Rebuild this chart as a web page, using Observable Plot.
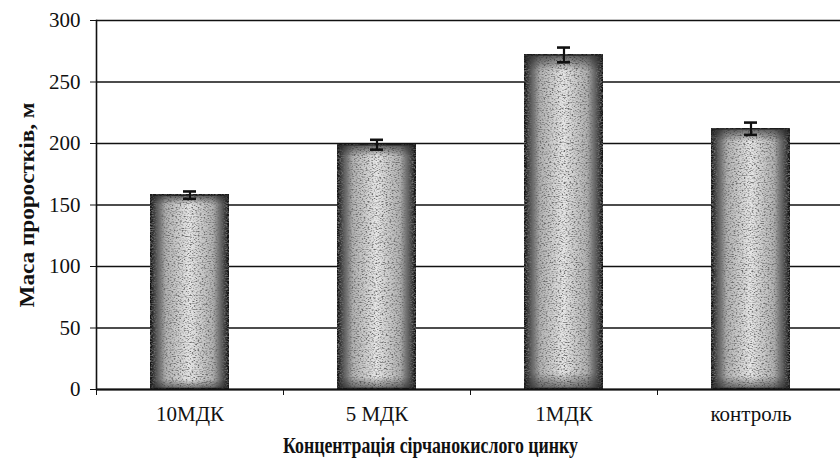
<!DOCTYPE html>
<html>
<head>
<meta charset="utf-8">
<script src="https://cdn.jsdelivr.net/npm/d3@7"></script>
<script src="https://cdn.jsdelivr.net/npm/@observablehq/plot@0.6"></script>
<style>
  html, body { margin: 0; padding: 0; background: #fff; }
</style>
</head>
<body>
<div id="chart"></div>
<script>
const categories = ["10МДК", "5 МДК", "1МДК", "контроль"];
const values = [158, 199, 272, 212];
const errors = [3, 4, 6, 5];
const yTicks = [0, 50, 100, 150, 200, 250, 300];
const xTitle = "Концентрація сірчанокислого цинку";
const yTitle = "Маса проростків, м";

const data = categories.map((c, i) => ({cat: c, v: values[i], e: errors[i]}));

const chart = Plot.plot({
  width: 840,
  height: 469,
  marginLeft: 96,
  marginTop: 20,
  marginBottom: 80,
  marginRight: 0,
  style: {fontFamily: "'Liberation Serif', serif", fontSize: "21px", color: "#111", background: "#fff"},
  x: {domain: categories, range: [96, 844], paddingInner: 0.58, paddingOuter: 0.29, align: 0.5},
  y: {domain: [0, 300], ticks: yTicks},
  marks: [
    Plot.gridY(yTicks, {stroke: "#111", strokeOpacity: 1, strokeWidth: 1.6}),
    Plot.barY(data, {x: "cat", y: "v", fill: "url(#barGrad)", stroke: "#151515", strokeWidth: 2.5, className: "grainbar"}),
    Plot.barY(data, {x: "cat", y: "v", fill: "url(#vGrad)", className: "vshade"}),
    Plot.ruleX(data, {x: "cat", y1: d => d.v - d.e, y2: d => d.v + d.e, stroke: "#111", strokeWidth: 2.2}),
    Plot.tickY(data, {x: "cat", y: d => d.v + d.e, stroke: "#111", strokeWidth: 2.6, insetLeft: 33, insetRight: 33}),
    Plot.tickY(data, {x: "cat", y: d => d.v - d.e, stroke: "#111", strokeWidth: 2.6, insetLeft: 33, insetRight: 33}),
    Plot.ruleY([0], {stroke: "#111", strokeWidth: 2}),
    Plot.frame({anchor: "left", stroke: "#111", strokeWidth: 1.6}),
    Plot.axisY(yTicks, {tickSize: 6, tickPadding: 10, fontSize: 21, stroke: "#111", label: null}),
    Plot.axisX({tickSize: 0, tickPadding: 17, fontSize: 21, label: null}),
    Plot.axisX({tickSize: 6, tickFormat: () => "", dx: -93.5, label: null, stroke: "#111"}),
    Plot.text([xTitle], {frameAnchor: "bottom", dy: 63, dx: -38, fontSize: 23, fontWeight: "bold", textAnchor: "middle", className: "xtitle"}),
    Plot.text([yTitle], {frameAnchor: "left", dx: -70, rotate: -90, fontSize: 22, fontWeight: "bold", textAnchor: "middle", className: "ytitle"})
  ]
});

// Texture definitions for the bars
const ns = "http://www.w3.org/2000/svg";
const defs = document.createElementNS(ns, "defs");
defs.innerHTML = `
  <linearGradient id="barGrad" x1="0" x2="1" y1="0" y2="0">
    <stop offset="0" stop-color="#111"/>
    <stop offset="0.06" stop-color="#444"/>
    <stop offset="0.2" stop-color="#b0b0b0"/>
    <stop offset="0.5" stop-color="#e6e6e6"/>
    <stop offset="0.8" stop-color="#b0b0b0"/>
    <stop offset="0.94" stop-color="#444"/>
    <stop offset="1" stop-color="#111"/>
  </linearGradient>
  <linearGradient id="vGrad" x1="0" x2="0" y1="0" y2="1">
    <stop offset="0" stop-color="#222" stop-opacity="0.7"/>
    <stop offset="0.05" stop-color="#222" stop-opacity="0"/>
    <stop offset="0.95" stop-color="#222" stop-opacity="0"/>
    <stop offset="1" stop-color="#222" stop-opacity="0.6"/>
  </linearGradient>
  <filter id="grain" x="0" y="0" width="1" height="1" filterUnits="objectBoundingBox">
    <feTurbulence type="fractalNoise" baseFrequency="0.5 0.85" numOctaves="2" seed="7" result="noise"/>
    <feColorMatrix in="noise" type="matrix" values="0 0 0 0 0.15  0 0 0 0 0.15  0 0 0 0 0.15  3.4 0 0 0 -1.55" result="speck"/>
    <feComposite in="speck" in2="SourceGraphic" operator="in" result="speckIn"/>
    <feMerge><feMergeNode in="SourceGraphic"/><feMergeNode in="speckIn"/></feMerge>
  </filter>`;
chart.insertBefore(defs, chart.firstChild);
chart.querySelectorAll(".grainbar rect").forEach(r => r.setAttribute("filter", "url(#grain)"));
chart.querySelectorAll(".xtitle text").forEach(t => { t.setAttribute("textLength", "295"); t.setAttribute("lengthAdjust", "spacingAndGlyphs"); });
chart.querySelectorAll(".ytitle text").forEach(t => { t.setAttribute("textLength", "205"); t.setAttribute("lengthAdjust", "spacingAndGlyphs"); });

document.getElementById("chart").appendChild(chart);
</script>
</body>
</html>
